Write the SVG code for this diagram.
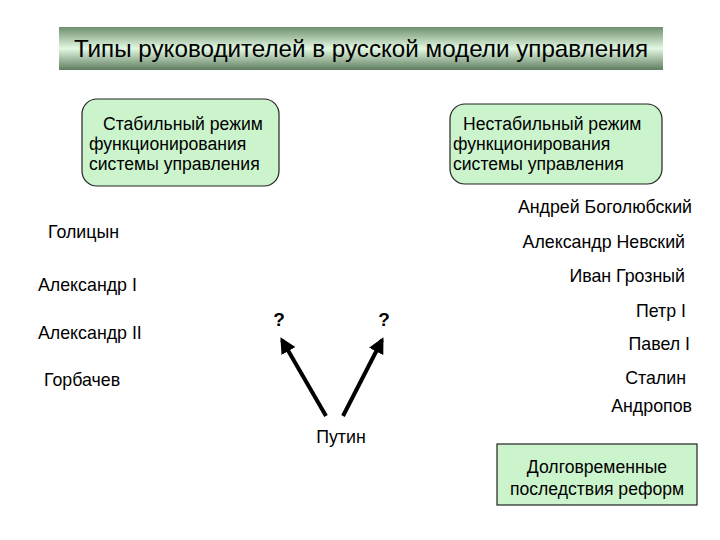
<svg xmlns="http://www.w3.org/2000/svg" width="720" height="540" viewBox="0 0 720 540">
<defs>
<linearGradient id="tg" x1="0" y1="0" x2="0" y2="1">
<stop offset="0" stop-color="#6f8f6f"/>
<stop offset="0.5" stop-color="#e2f8e2"/>
<stop offset="1" stop-color="#5f7d5f"/>
</linearGradient>
<marker id="ah" viewBox="0 0 10 10" refX="8" refY="5" markerWidth="4" markerHeight="4" orient="auto" markerUnits="strokeWidth">
<path d="M0,0 L10,5 L0,10 z" fill="#000"/>
</marker>
<style>
text{font-family:"Liberation Sans",Arial,sans-serif;fill:#000}
.nm{font-size:17.8px}
.bx{font-size:17.6px}
.box{fill:#ccf4cc;stroke:#222;stroke-width:1.2}
.arr{stroke:#000;stroke-width:4;fill:none;marker-end:url(#ah)}
</style>
</defs>
<rect width="720" height="540" fill="#fff"/>
<g id="title">
<rect x="59" y="27" width="604" height="43" fill="url(#tg)"/>
<text x="361" y="57" font-size="24.2" text-anchor="middle">Типы руководителей в русской модели управления</text>
</g>
<g id="stable">
<rect class="box" x="82" y="99" width="197" height="87" rx="15"/>
<text class="bx" x="103" y="130">Стабильный режим</text>
<text class="bx" x="89" y="150">функционирования</text>
<text class="bx" x="89" y="170">системы управления</text>
</g>
<g id="unstable">
<rect class="box" x="450" y="104" width="212" height="80" rx="15"/>
<text class="bx" x="463" y="130">Нестабильный режим</text>
<text class="bx" x="453" y="150">функционирования</text>
<text class="bx" x="453" y="170">системы управления</text>
</g>
<g id="reforms">
<rect class="box" x="497" y="444" width="200" height="61" rx="0"/>
<text class="bx" x="597" y="473" text-anchor="middle">Долговременные</text>
<text class="bx" x="597" y="495" text-anchor="middle">последствия реформ</text>
</g>
<g id="left-names">
<text class="nm" x="48" y="238">Голицын</text>
<text class="nm" x="38" y="291">Александр I</text>
<text class="nm" x="38" y="339">Александр II</text>
<text class="nm" x="44" y="386">Горбачев</text>
</g>
<g id="right-names" text-anchor="end">
<text class="nm" x="692" y="213">Андрей Боголюбский</text>
<text class="nm" x="685" y="248">Александр Невский</text>
<text class="nm" x="685" y="282">Иван Грозный</text>
<text class="nm" x="686" y="317">Петр I</text>
<text class="nm" x="690" y="350">Павел I</text>
<text class="nm" x="686" y="384">Сталин</text>
<text class="nm" x="692" y="412">Андропов</text>
</g>
<g id="putin">
<text class="nm" x="341" y="443" text-anchor="middle">Путин</text>
</g>
<g id="q1"><text x="279" y="326" font-size="19" font-weight="bold" text-anchor="middle">?</text></g>
<g id="q2"><text x="384" y="326" font-size="19" font-weight="bold" text-anchor="middle">?</text></g>
<g id="connectors">
<line class="arr" x1="326" y1="416" x2="282" y2="340"/>
<line class="arr" x1="343" y1="416" x2="382" y2="340"/>
</g>
</svg>
